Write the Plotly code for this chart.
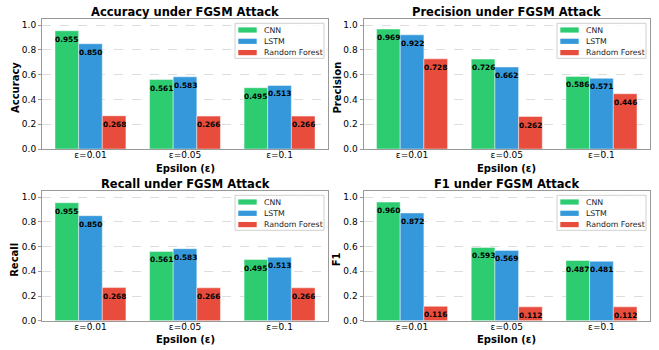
import plotly.graph_objects as go

categories = ["ε=0.01", "ε=0.05", "ε=0.1"]
models = ["CNN", "LSTM", "Random Forest"]
colors = ["#2ecc71", "#3498db", "#e74c3c"]

accuracy = {"CNN": [0.955, 0.561, 0.495], "LSTM": [0.850, 0.583, 0.513], "Random Forest": [0.268, 0.266, 0.266]}
precision = {"CNN": [0.969, 0.726, 0.586], "LSTM": [0.922, 0.662, 0.571], "Random Forest": [0.728, 0.262, 0.446]}
recall = {"CNN": [0.955, 0.561, 0.495], "LSTM": [0.850, 0.583, 0.513], "Random Forest": [0.268, 0.266, 0.266]}
f1 = {"CNN": [0.960, 0.593, 0.487], "LSTM": [0.872, 0.569, 0.481], "Random Forest": [0.116, 0.112, 0.112]}

panels = [("Accuracy", accuracy), ("Precision", precision), ("Recall", recall), ("F1", f1)]

W, H = 659, 350
# pixel boxes of axes: (left, right, top, bottom)
boxes = [(42, 328, 19, 149), (363.5, 650, 19, 149),
         (42, 328, 191, 320.7), (363.5, 650, 191, 320.7)]

bar_w = 0.25
offsets = [-0.25, 0.0, 0.25]


def px(x):
    return x / W


def py(y):
    return 1 - y / H


fig = go.Figure()
annotations = []
shapes = []
layout = dict(width=W, height=H, margin=dict(l=0, r=0, t=0, b=0, autoexpand=False),
              plot_bgcolor="white", paper_bgcolor="white",
              font=dict(family="DejaVu Sans", color="black"),
              barmode="overlay", showlegend=False)

for p, (name, data) in enumerate(panels):
    sfx = "" if p == 0 else str(p + 1)
    xa, ya = "x" + sfx, "y" + sfx
    l, r, t, b = boxes[p]
    for m, model in enumerate(models):
        xs = [i + offsets[m] for i in range(len(categories))]
        vals = data[model]
        fig.add_trace(go.Bar(x=xs, y=vals, width=bar_w, name=model,
                             marker=dict(color=colors[m], line=dict(color="rgba(255,255,255,0.55)", width=0.8)),
                             xaxis=xa, yaxis=ya))
        for xv, v in zip(xs, vals):
            annotations.append(dict(text=f"<b>{v:.3f}</b>", x=xv, y=v, xref=xa, yref=ya,
                                    xanchor="center", yanchor="middle", yshift=-8.5, showarrow=False,
                                    font=dict(size=7.4, color="black")))
    layout["xaxis" + sfx] = dict(domain=[px(l), px(r)], anchor=ya, range=[-0.5125, 2.5125],
                                 tickvals=list(range(len(categories))), ticktext=categories,
                                 showline=True, mirror=True, linecolor="#999999", linewidth=1,
                                 ticks="outside", ticklen=3, tickcolor="#999999",
                                 tickfont=dict(size=9), showgrid=False, zeroline=False,
                                 automargin=False, ticklabelstandoff=-6)
    layout["yaxis" + sfx] = dict(domain=[py(b), py(t)], anchor=xa, range=[0, 1.05],
                                 tickvals=[0, 0.2, 0.4, 0.6, 0.8, 1.0], tickformat=".1f",
                                 showline=True, mirror=True, linecolor="#999999", linewidth=1,
                                 ticks="outside", ticklen=3, tickcolor="#999999",
                                 tickfont=dict(size=9), showgrid=True, gridcolor="#dddddd",
                                 griddash="dash", gridwidth=0.8, zeroline=False, automargin=False)
    # subplot title
    annotations.append(dict(text=f"<b>{name} under FGSM Attack</b>", x=px((l + r) / 2), y=py(t - 7),
                            xref="paper", yref="paper", xanchor="center", yanchor="middle",
                            showarrow=False, font=dict(size=11.5)))
    # axis titles
    annotations.append(dict(text="<b>Epsilon (ε)</b>", x=px((l + r) / 2), y=py(b + 19),
                            xref="paper", yref="paper", xanchor="center", yanchor="middle",
                            showarrow=False, font=dict(size=10)))
    annotations.append(dict(text=f"<b>{name}</b>", x=px(l - 27), y=py((t + b) / 2 + 4),
                            xref="paper", yref="paper", xanchor="center", yanchor="middle",
                            textangle=-90, showarrow=False, font=dict(size=10)))
    # legend (drawn as a framed key in the upper right of each panel)
    bx1 = r - 4
    bx0 = bx1 - 89
    by0 = t + 4.3
    by1 = by0 + 35
    shapes.append(dict(type="rect", xref="paper", yref="paper", x0=px(bx0), x1=px(bx1),
                       y0=py(by1), y1=py(by0), line=dict(color="#d0d0d0", width=1),
                       fillcolor="rgba(255,255,255,0.85)", layer="above"))
    for m, model in enumerate(models):
        cy = by0 + 6.7 + 11.3 * m
        shapes.append(dict(type="rect", xref="paper", yref="paper", x0=px(bx0 + 3.3), x1=px(bx0 + 21.7),
                           y0=py(cy + 2.6), y1=py(cy - 2.6), line=dict(width=0),
                           fillcolor=colors[m], layer="above"))
        annotations.append(dict(text=model, x=px(bx0 + 26.5), y=py(cy), xref="paper", yref="paper",
                                xanchor="left", yanchor="middle", showarrow=False,
                                font=dict(size=7.8, color="#222222")))

layout["annotations"] = annotations
layout["shapes"] = shapes
fig.update_layout(**layout)
fig.write_html("out.html", config={"displayModeBar": False},
               post_script="document.body.style.margin='0';")
